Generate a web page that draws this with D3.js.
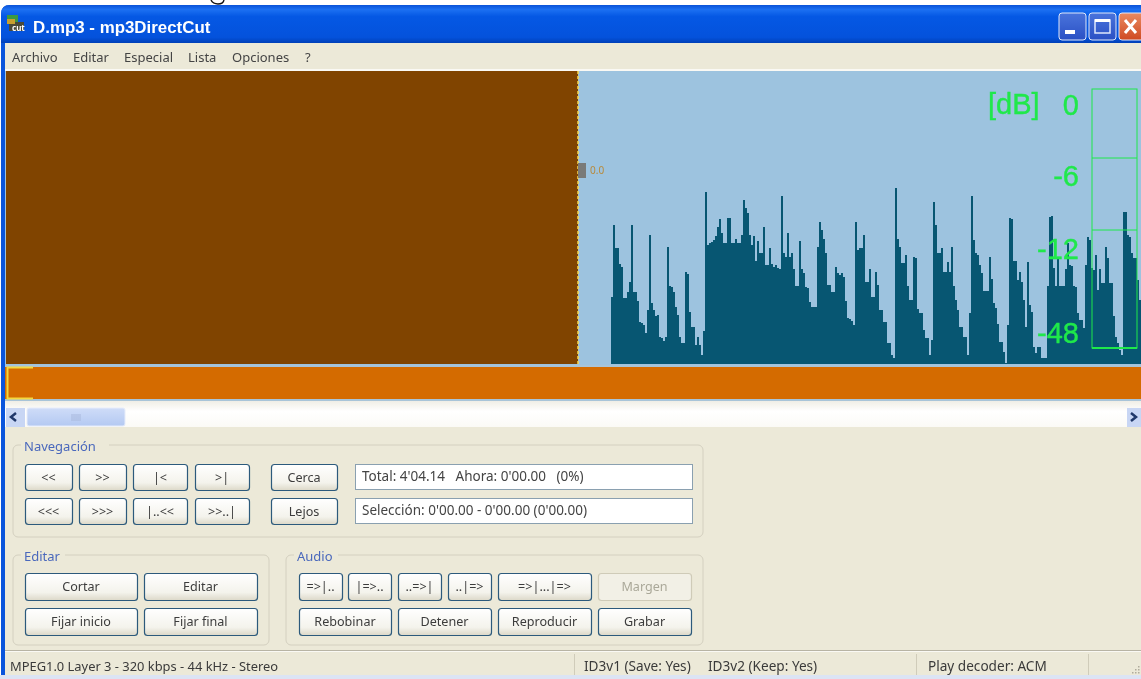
<!DOCTYPE html>
<html>
<head>
<meta charset="utf-8">
<title>mp3DirectCut</title>
<script src="https://cdnjs.cloudflare.com/ajax/libs/d3/7.9.0/d3.min.js"></script>
<style>
html, body { margin: 0; padding: 0; background: #fff; overflow: hidden; }
svg { display: block; filter: blur(0.35px); }
text { font-family: "Noto Sans", "Open Sans", sans-serif; white-space: pre; }
</style>
</head>
<body>
<div id="app"></div>
<script>
// waveform levels, left to right
const wave_levels = [
    67, 139, 116, 116, 100, 97, 66, 66, 72, 82, 139, 72, 72, 63, 42, 41, 39, 31, 54, 129,
    61, 54, 48, 49, 27, 26, 23, 27, 117, 78, 77, 72, 57, 49, 27, 21, 21, 92, 90, 52,
    37, 37, 19, 27, 19, 9, 33, 172, 119, 121, 122, 124, 128, 137, 145, 131, 121, 121, 146, 146,
    121, 121, 125, 121, 121, 129, 164, 156, 151, 129, 119, 128, 103, 123, 111, 111, 137, 99, 99, 116,
    100, 97, 99, 96, 95, 168, 111, 107, 131, 107, 111, 95, 78, 78, 123, 95, 91, 77, 76, 62,
    57, 57, 57, 117, 142, 134, 125, 111, 79, 79, 72, 72, 97, 91, 89, 91, 87, 63, 46, 45,
    43, 39, 142, 114, 116, 116,
    129, 82, 82, 95, 67, 67, 92, 79, 54, 54, 42, 42, 21, 21, 9, 6, 176, 125, 117, 101,
    101, 109, 78, 64, 64, 107, 106, 55, 51, 51, 34, 26, 26, 9, 24, 162, 139, 111, 111, 116,
    92, 92, 102, 92, 117, 78, 64, 54, 37, 37, 27, 27, 9, 51, 168, 124, 111, 109, 99, 91,
    73, 73, 73, 107, 85, 61, 56, 40, 22, 22, 12, 1, 39, 146, 145, 103, 103, 84, 92, 82,
    64, 37, 102, 59, 52, 17, 11, 17, 17, 6, 6, 6, 78, 147, 148, 96, 78, 106, 78, 78,
    78, 95, 121, 99, 98, 78, 77, 51, 44, 44, 36, 99, 127, 124, 96, 94, 109, 74, 95, 81,
    81, 117, 106, 81, 81, 48, 27, 21, 14, 9, 152, 152, 129, 127, 111, 106, 106, 84, 64, 64
];

// meter
const db_ticks = [0, -6, -12, -48];
const db_labels = ["0", "-6", "-12", "-48"];

// menu and window texts
const menu_items = ["Archivo", "Editar", "Especial", "Lista", "Opciones", "?"];
const window_title = "D.mp3 - mp3DirectCut";
const nav_row1 = ["<<", ">>", "|<", ">|"];
const nav_row2 = ["<<<", ">>>", "|..<<", ">>..|"];
const zoom_buttons = ["Cerca", "Lejos"];
const info_lines = ["Total: 4'04.14   Ahora: 0'00.00   (0%)", "Selección: 0'00.00 - 0'00.00 (0'00.00)"];
const edit_row1 = ["Cortar", "Editar"];
const edit_row2 = ["Fijar inicio", "Fijar final"];
const audio_row1 = ["=>|..", "|=>..", "..=>|", "..|=>", "=>|...|=>", "Margen"];
const audio_row2 = ["Rebobinar", "Detener", "Reproducir", "Grabar"];
const status_texts = ["MPEG1.0 Layer 3 - 320 kbps - 44 kHz - Stereo", "ID3v1 (Save: Yes)", "ID3v2 (Keep: Yes)", "Play decoder: ACM"];

const W = 1141, H = 679;
const svg = d3.select("#app").append("svg").attr("width", W).attr("height", H);
const defs = svg.append("defs");

function gradient(id, stops) {
    const g = defs.append("linearGradient").attr("id", id).attr("x1", 0).attr("x2", 0).attr("y1", 0).attr("y2", 1);
    stops.forEach(s => g.append("stop").attr("offset", s[0]).attr("stop-color", s[1]));
}
gradient("titleGrad", [[0, "#0a52d8"], [0.12, "#1c70f2"], [0.3, "#0558e4"], [0.85, "#0452dc"], [1, "#0040b8"]]);
gradient("btnGrad", [[0, "#ffffff"], [0.7, "#f4f3ec"], [1, "#dcd8c8"]]);
gradient("ctlBlue", [[0, "#4a74dc"], [1, "#2a50c4"]]);
gradient("ctlRed", [[0, "#ea8a60"], [1, "#cf4a22"]]);
gradient("scrollGrad", [[0, "#cfdcf8"], [1, "#b4c9f2"]]);
gradient("trackGrad", [[0, "#f0eee6"], [0.4, "#ffffff"], [1, "#fbfaf6"]]);

function rect(parent, x, y, w, h, fill) {
    return parent.append("rect").attr("x", x).attr("y", y).attr("width", w).attr("height", h).attr("fill", fill);
}
function label(parent, x, y, s, size, fill, anchor) {
    return parent.append("text").attr("x", x).attr("y", y).attr("font-size", size)
        .attr("fill", fill).attr("text-anchor", anchor || "start").text(s);
}

// window frame
rect(svg, 0, 0, W, H, "#ffffff");
// bit of a letter from the page above the window
svg.append("path").attr("d", "M211,0Q213,4 218,4Q223,4 224,0").attr("fill", "none").attr("stroke", "#111").attr("stroke-width", 1.4);
svg.append("path").attr("d", "M1,679V14Q1,5 10,5H1141V679Z").attr("fill", "#0a55dc");
rect(svg, 5, 43, W - 5, 632, "#ece9d8");
rect(svg, 0, 675, W, 4, "#dce4f4");

// title bar
svg.append("path").attr("d", "M1,43V14Q1,5 10,5H1141V43Z").attr("fill", "url(#titleGrad)");
const icon = svg.append("g");
rect(icon, 7, 15, 11, 8, "#3c9a40");
rect(icon, 9, 22, 15, 9, "#4a4a38");
rect(icon, 7, 19, 8, 5, "#c8a030");
label(icon, 12, 31, "cut", 8, "#fff").attr("font-weight", 700);
label(svg, 33, 33, window_title, 16.9, "#ffffff").attr("font-weight", 700)
    .style("font-family", "Liberation Sans");

// min / max / close
const ctl = [[1059, "ctlBlue"], [1089, "ctlBlue"], [1119, "ctlRed"]];
ctl.forEach(c => {
    svg.append("rect").attr("x", c[0]).attr("y", 13).attr("width", 27).attr("height", 27).attr("rx", 3)
        .attr("fill", `url(#${c[1]})`).attr("stroke", "#dfe8fb").attr("stroke-width", 1);
});
rect(svg, 1065, 30, 10, 4, "#fff");
svg.append("rect").attr("x", 1095).attr("y", 20).attr("width", 15).attr("height", 13).attr("fill", "none").attr("stroke", "#dfe8fb").attr("stroke-width", 1.5);
rect(svg, 1095, 19, 15, 3, "#fff");
svg.append("path").attr("d", "M1125,20L1136,33M1136,20L1125,33").attr("stroke", "#fff").attr("stroke-width", 3);

// menu
const menuX = d3.scaleOrdinal().domain(menu_items).range([12, 73, 124, 188, 232, 305]);
menu_items.forEach(m => label(svg, menuX(m), 62, m, 13, "#444"));
rect(svg, 5, 69, W - 5, 2, "#faf9f4");

// wave display
const plotTop = 71, plotBase = 364, plotLeft = 611;
rect(svg, 5, plotTop, W - 5, 296, "#9dc3df");
rect(svg, 6, plotTop, 572, 293, "#804400");

const x = d3.scaleBand().domain(d3.range(wave_levels.length)).range([plotLeft, plotLeft + wave_levels.length * 2]);
const y = d3.scaleLinear().domain([0, 293]).range([plotBase, plotTop]);

svg.append("g").attr("shape-rendering", "crispEdges").attr("fill", "#075672")
    .selectAll("rect")
    .data(wave_levels)
    .join("rect")
    .attr("x", (d, i) => x(i))
    .attr("y", d => y(d))
    .attr("width", x.bandwidth())
    .attr("height", d => y(0) - y(d));

// cursor
svg.append("line").attr("x1", 578).attr("x2", 578).attr("y1", plotTop).attr("y2", plotBase)
    .attr("stroke", "#f8d850").attr("stroke-dasharray", "3,2").attr("stroke-width", 1.5);
rect(svg, 578, 163, 8, 15, "#7a7a78");
label(svg, 590, 174, "0.0", 10, "#b88a3c");

// dB meter
const green = "#1fe84a";
const meterY = d3.scaleOrdinal().domain(db_ticks).range([89, 158, 230, 348]);
const meterLabelY = d3.scaleOrdinal().domain(db_ticks).range([115, 186, 259, 343]);
const meter = svg.append("g");
meter.append("rect").attr("x", 1092).attr("y", meterY(0)).attr("width", 45).attr("height", meterY(-48) - meterY(0))
    .attr("fill", "none").attr("stroke", green).attr("stroke-width", 1);
meter.selectAll("line.t").data(db_ticks.slice(1, 3)).join("line")
    .attr("x1", 1092).attr("x2", 1137).attr("y1", d => meterY(d)).attr("y2", d => meterY(d))
    .attr("stroke", green);
meter.append("line").attr("x1", 1092).attr("x2", 1137).attr("y1", meterY(-48)).attr("y2", meterY(-48))
    .attr("stroke", green).attr("stroke-width", 2);
meter.selectAll("text").data(db_ticks).join("text")
    .attr("x", 1079).attr("y", d => meterLabelY(d)).attr("text-anchor", "end")
    .attr("font-size", 29).attr("fill", green).attr("stroke", green).attr("stroke-width", 0.4)
    .style("font-family", "Liberation Sans")
    .text((d, i) => db_labels[i]);
label(svg, 988, 114, "[dB]", 29, green).attr("stroke", green).attr("stroke-width", 0.4)
    .style("font-family", "Liberation Sans");

// overview strip
rect(svg, 5, 367, W - 5, 32, "#d46b00");
rect(svg, 5, 365, W - 5, 2, "#a8c4d8");
rect(svg, 5, 399, W - 5, 2, "#a8c4d8");
svg.append("path").attr("d", "M33,367.5H7.5V398.5H33").attr("fill", "none").attr("stroke", "#f4d840").attr("stroke-width", 2);

// scrollbar
rect(svg, 5, 401, W - 5, 26, "url(#trackGrad)");
rect(svg, 6, 408, 19, 19, "#c8d6f4");
svg.append("path").attr("d", "M16,413L11,417L16,421").attr("fill", "none").attr("stroke", "#20386a").attr("stroke-width", 2.5);
svg.append("rect").attr("x", 27).attr("y", 408).attr("width", 98).attr("height", 18).attr("rx", 2)
    .attr("fill", "url(#scrollGrad)").attr("stroke", "#e6ecfa");
svg.append("path").attr("d", "M72,414V421M74,414V421M76,414V421M78,414V421M80,414V421").attr("stroke", "#a8b8dc");
rect(svg, 1127, 408, 14, 19, "#c8d6f4");
svg.append("path").attr("d", "M1131,413L1136,417L1131,421").attr("fill", "none").attr("stroke", "#20386a").attr("stroke-width", 2.5);

// group boxes
function group(x0, y0, w, h, title, gapW) {
    svg.append("rect").attr("x", x0).attr("y", y0).attr("width", w).attr("height", h).attr("rx", 5)
        .attr("fill", "none").attr("stroke", "#d4d0c0");
    rect(svg, x0 + 8, y0 - 2, gapW, 4, "#ece9d8");
    label(svg, x0 + 11, y0 + 6, title, 13, "#4a68bc");
}
group(13, 445, 690, 92, "Navegación", 88);
group(13, 555, 256, 90, "Editar", 44);
group(286, 555, 417, 90, "Audio", 44);

function button(x0, y0, w, h, s, disabled) {
    svg.append("rect").attr("x", x0 + 0.5).attr("y", y0 + 0.5).attr("width", w).attr("height", h).attr("rx", 3)
        .attr("fill", disabled ? "#f2f0e6" : "url(#btnGrad)").attr("stroke", disabled ? "#cfcbb8" : "#2c5a7c")
        .attr("stroke-width", 1.2);
    label(svg, x0 + w / 2, y0 + h / 2 + 4.5, s, 12.6, disabled ? "#aaa899" : "#3c3c3c", "middle");
}
const navCols = [[25, 47], [79, 47], [133, 54], [195, 54]];
nav_row1.forEach((s, i) => button(navCols[i][0], 464, navCols[i][1], 26, s));
nav_row2.forEach((s, i) => button(navCols[i][0], 498, navCols[i][1], 26, s));
zoom_buttons.forEach((s, i) => button(271, 464 + i * 34, 66, 26, s));

info_lines.forEach((s, i) => {
    svg.append("rect").attr("x", 355.5).attr("y", 464.5 + i * 34).attr("width", 337).attr("height", 25)
        .attr("fill", "#fff").attr("stroke", "#8aa0b0");
    label(svg, 362, 481 + i * 34, s, 13.5, "#444");
});

const editCols = [[25, 112], [144, 113]];
edit_row1.forEach((s, i) => button(editCols[i][0], 573, editCols[i][1], 27, s));
edit_row2.forEach((s, i) => button(editCols[i][0], 608, editCols[i][1], 27, s));

const audioCols = [[299, 43], [348, 43], [398, 43], [448, 43], [498, 93], [598, 93]];
audio_row1.forEach((s, i) => button(audioCols[i][0], 573, audioCols[i][1], 27, s, s === "Margen"));
const audioCols2 = [[299, 92], [398, 93], [498, 93], [598, 93]];
audio_row2.forEach((s, i) => button(audioCols2[i][0], 608, audioCols2[i][1], 27, s));

// status bar
rect(svg, 5, 650, W - 5, 1, "#b8b4a4");
rect(svg, 5, 651, W - 5, 1, "#faf9f4");
[574, 916, 1088].forEach(d => {
    rect(svg, d, 654, 1, 21, "#d0ccba");
});
const statusX = [10, 584, 708, 928];
status_texts.forEach((s, i) => label(svg, statusX[i], 671, s, i === 0 ? 12.9 : 13.6, "#3a3a3a"));
// size grip
[[1138, 666], [1135, 669], [1138, 669], [1132, 672], [1135, 672], [1138, 672]].forEach(p => {
    rect(svg, p[0], p[1], 1.5, 1.5, "#b0ac9c");
});
</script>
</body>
</html>
